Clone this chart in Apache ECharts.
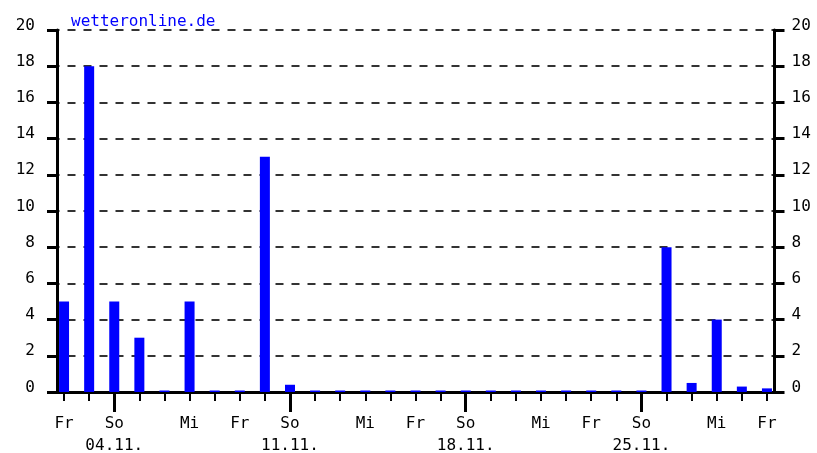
<!DOCTYPE html>
<html>
<head>
<meta charset="utf-8">
<script src="https://cdn.jsdelivr.net/npm/echarts@6/dist/echarts.min.js"></script>
<style>
html, body { margin: 0; padding: 0; background: #fff; }
#chart { width: 817px; height: 453px; }
</style>
</head>
<body>
<div id="chart"></div>
<script>
// Tage 02.11. (Fr) bis 30.11. (Fr)
var days = ['02.11.','03.11.','04.11.','05.11.','06.11.','07.11.','08.11.','09.11.','10.11.','11.11.',
            '12.11.','13.11.','14.11.','15.11.','16.11.','17.11.','18.11.','19.11.','20.11.','21.11.',
            '22.11.','23.11.','24.11.','25.11.','26.11.','27.11.','28.11.','29.11.','30.11.'];
var weekdays = ['Fr','Sa','So','Mo','Di','Mi','Do','Fr','Sa','So',
                'Mo','Di','Mi','Do','Fr','Sa','So','Mo','Di','Mi',
                'Do','Fr','Sa','So','Mo','Di','Mi','Do','Fr'];
// Niederschlag (mm)
var rain = [5, 18, 5, 3, 0, 5, 0, 0, 13, 0.4,
            0, 0, 0, 0, 0, 0, 0, 0, 0, 0,
            0, 0, 0, 0, 8, 0.5, 4, 0.3, 0.2];
var shownDays = ['Fr', 'So', 'Mi'];
var yTicks = [0, 2, 4, 6, 8, 10, 12, 14, 16, 18, 20];

var monoFont = '"DejaVu Sans Mono", monospace';

var myChart = echarts.init(document.getElementById('chart'));

var yAxisBase = {
    type: 'value',
    min: yTicks[0],
    max: yTicks[yTicks.length - 1],
    interval: 2,
    axisLine: { show: true, lineStyle: { color: '#000', width: 3 } },
    axisTick: { show: true, length: 10, lineStyle: { color: '#000', width: 3 } },
    splitLine: { show: false }
};

option = {
    backgroundColor: '#fff',
    animation: false,
    title: {
        text: 'wetteronline.de',
        left: 66,
        top: 9,
        textStyle: { color: '#0000ff', fontFamily: monoFont, fontSize: 16, fontWeight: 'normal' }
    },
    grid: {
        left: 51.5,
        right: 37.5,
        top: 30,
        bottom: 61,
        containLabel: false,
        outerBoundsMode: 'none'
    },
    xAxis: [
        {
            type: 'category',
            data: days,
            boundaryGap: true,
            axisLine: { show: true, lineStyle: { color: '#000', width: 3 } },
            axisTick: { show: true, alignWithLabel: true, interval: 0, length: 9, lineStyle: { color: '#000', width: 2 } },
            axisLabel: {
                interval: 0,
                margin: 21,
                color: '#000',
                fontFamily: monoFont,
                fontSize: 16,
                lineHeight: 22,
                formatter: function (value, idx) {
                    var wd = weekdays[idx];
                    if (shownDays.indexOf(wd) < 0) return '';
                    if (wd === 'So') return wd + '\n' + value;
                    return wd;
                }
            },
            splitLine: { show: false }
        },
        {
            type: 'category',
            data: days,
            position: 'bottom',
            boundaryGap: true,
            axisLine: { show: false },
            axisTick: {
                show: true,
                alignWithLabel: true,
                interval: function (idx) { return weekdays[idx] === 'So'; },
                length: 20,
                lineStyle: { color: '#000', width: 3 }
            },
            axisLabel: { show: false },
            splitLine: { show: false }
        }
    ],
    yAxis: [
        Object.assign({}, yAxisBase, {
            position: 'left',
            offset: -5.5,
            axisLabel: {
                margin: 22,
                color: '#000',
                fontFamily: monoFont,
                fontSize: 16,
                lineHeight: 9,
                verticalAlign: 'bottom'
            },
            splitLine: { show: true, lineStyle: { color: '#333', width: 2, type: [8, 8] } }
        }),
        Object.assign({}, yAxisBase, {
            position: 'right',
            offset: -5,
            axisLabel: {
                margin: 17,
                color: '#000',
                fontFamily: monoFont,
                fontSize: 16,
                lineHeight: 9,
                verticalAlign: 'bottom'
            }
        })
    ],
    series: [
        {
            type: 'bar',
            data: rain,
            xAxisIndex: 0,
            yAxisIndex: 0,
            barWidth: 10,
            barMinHeight: 1.5,
            itemStyle: { color: '#0000ff' }
        }
    ]
};
myChart.setOption(option);
</script>
</body>
</html>
